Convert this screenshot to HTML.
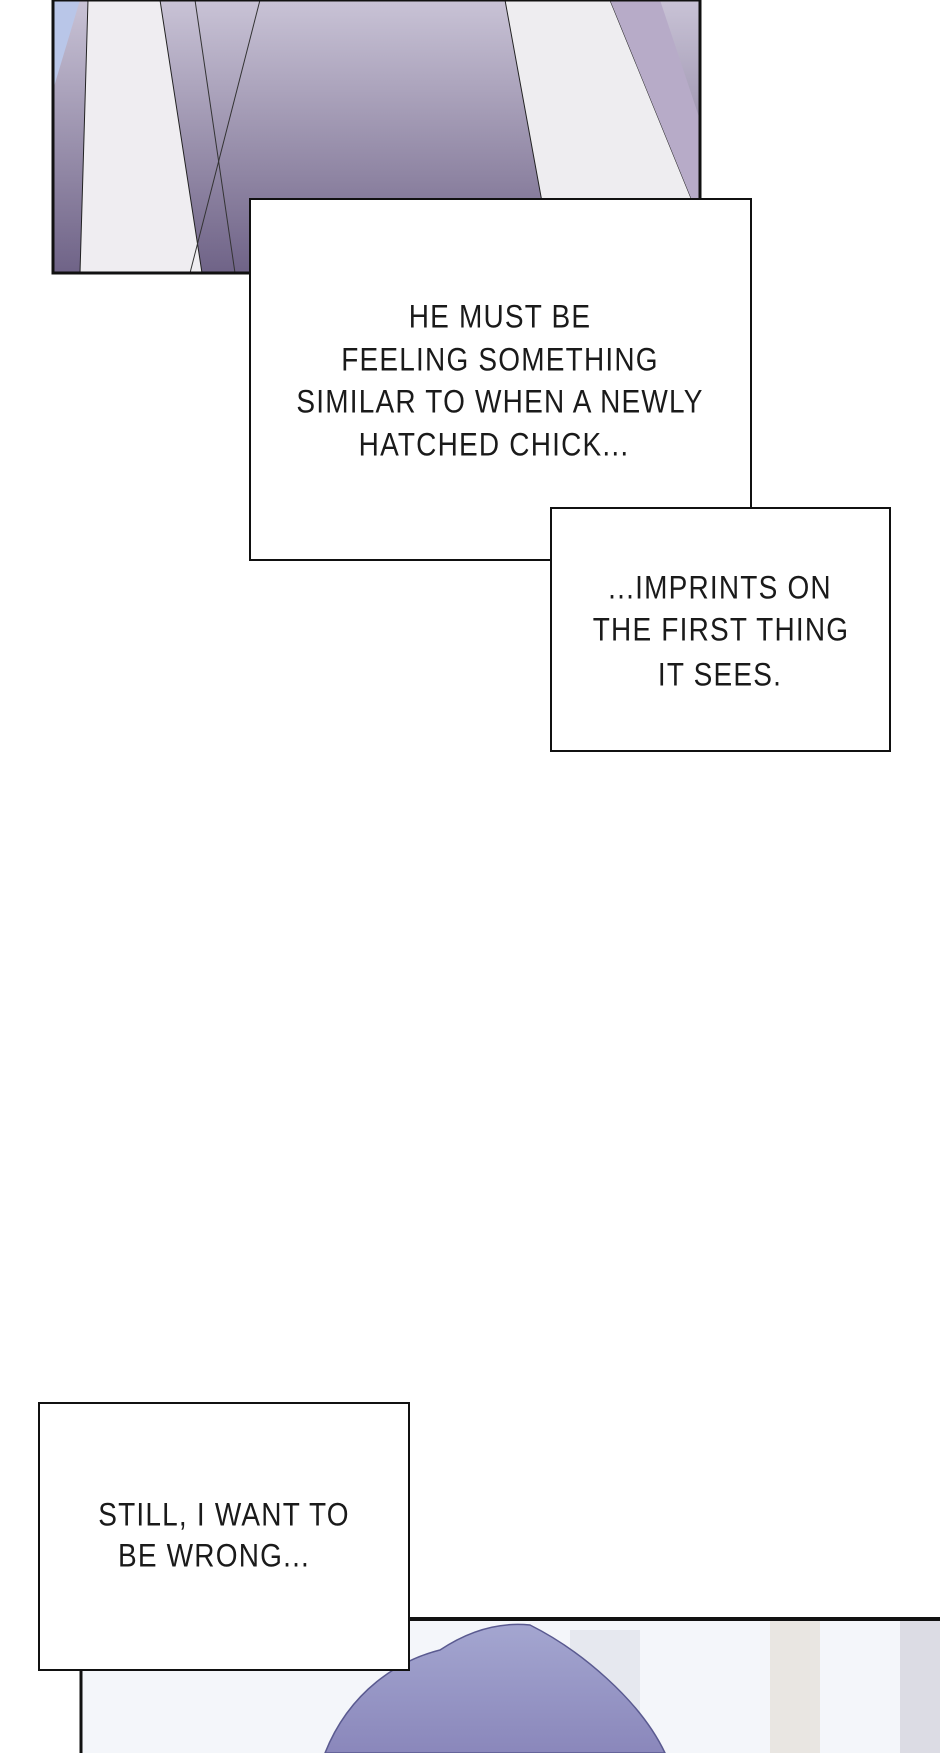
<!DOCTYPE html>
<html><head><meta charset="utf-8"><style>
html,body{margin:0;padding:0;background:#fff;}
body{width:940px;height:1753px;position:relative;overflow:hidden;font-family:"Liberation Sans",sans-serif;}
.box{position:absolute;background:#fff;border:2px solid #111;box-sizing:border-box;}
.t{position:absolute;white-space:nowrap;font-size:28px;color:#1a1a1a;transform:translate(-50%,-50%) scaleY(1.15);letter-spacing:1.2px;}
</style></head><body>
<svg width="940" height="1753" style="position:absolute;left:0;top:0">
<defs>
<linearGradient id="g1" x1="0" y1="0" x2="0" y2="1"><stop offset="0" stop-color="#c9c3d6"/><stop offset="1" stop-color="#6f6387"/></linearGradient>
<linearGradient id="g2" x1="0" y1="0" x2="0" y2="1"><stop offset="0" stop-color="#a4a6d0"/><stop offset="1" stop-color="#8a87bb"/></linearGradient>
</defs>
<rect x="53" y="0" width="647" height="273" fill="url(#g1)"/>
<polygon points="53,0 80,0 53,90" fill="#b9c6e8"/>
<polygon points="88,0 160,0 202,273 80,273" fill="#efedf1" stroke="#222" stroke-width="1"/>
<polygon points="505,0 610,0 700,220 700,273 555,273" fill="#eeedf0" stroke="#222" stroke-width="1"/>
<polygon points="610,0 660,0 700,120 700,220" fill="#b7abc8"/>
<line x1="195" y1="0" x2="235" y2="273" stroke="#333" stroke-width="1"/>
<line x1="260" y1="0" x2="190" y2="273" stroke="#333" stroke-width="1"/>
<rect x="53" y="0" width="647" height="273" fill="none" stroke="#111" stroke-width="3"/>
<rect x="80" y="1619" width="870" height="140" fill="#f4f6fa"/>
<rect x="570" y="1630" width="70" height="130" fill="#e6e8ef"/>
<rect x="770" y="1620" width="50" height="140" fill="#e9e6e2"/>
<rect x="900" y="1620" width="40" height="140" fill="#dcdce4"/>
<path d="M325,1753 C350,1690 400,1660 440,1650 C470,1630 500,1622 530,1625 C580,1650 640,1700 665,1753 Z" fill="url(#g2)" stroke="#5a5a90" stroke-width="1.5"/>
<line x1="80" y1="1619" x2="940" y2="1619" stroke="#111" stroke-width="4"/>
<line x1="81" y1="1619" x2="81" y2="1753" stroke="#111" stroke-width="3"/>
</svg>
<div class="box" style="left:249px;top:198px;width:503px;height:363px"></div>
<div class="box" style="left:550px;top:507px;width:341px;height:245px"></div>
<div class="box" style="left:38px;top:1402px;width:372px;height:269px"></div>
<div class="t" style="left:500px;top:317px">HE MUST BE</div>
<div class="t" style="left:500px;top:360px">FEELING SOMETHING</div>
<div class="t" style="left:500px;top:402px">SIMILAR TO WHEN A NEWLY</div>
<div class="t" style="left:494px;top:445px">HATCHED CHICK...</div>
<div class="t" style="left:720px;top:588px">...IMPRINTS ON</div>
<div class="t" style="left:721px;top:630px">THE FIRST THING</div>
<div class="t" style="left:720px;top:675px">IT SEES.</div>
<div class="t" style="left:224px;top:1515px">STILL, I WANT TO</div>
<div class="t" style="left:214px;top:1556px">BE WRONG...</div>
</body></html>
